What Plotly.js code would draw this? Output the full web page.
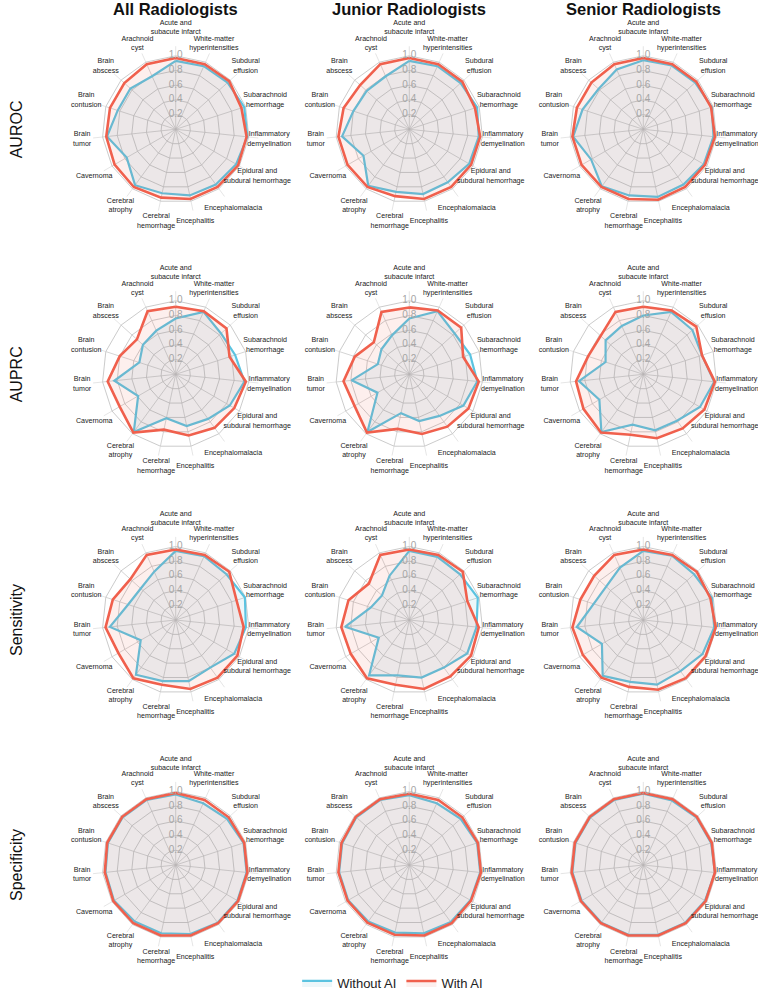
<!DOCTYPE html>
<html><head><meta charset="utf-8">
<script src="https://cdn.plot.ly/plotly-3.0.1.min.js"></script>
<style>html,body{margin:0;padding:0;background:#fff}</style>
</head><body><div id="chart" style="width:758px;height:999px"></div>
<script>
const categories = ["Acute and<br>subacute infarct", "White-matter<br>hyperintensities", "Subdural<br>effusion", "Subarachnoid<br>hemorrhage", "Inflammatory<br>demyelination", "Epidural and<br>subdural hemorrhage", "Encephalomalacia", "Encephalitis", "Cerebral<br>hemorrhage", "Cerebral<br>atrophy", "Cavernoma", "Brain<br>tumor", "Brain<br>contusion", "Brain<br>abscess", "Arachnoid<br>cyst"];
const groups = ["All Radiologists", "Junior Radiologists", "Senior Radiologists"];
const metrics = ["AUROC", "AUPRC", "Sensitivity", "Specificity"];
const seriesNames = ["Without AI", "With AI"];
const radialTicks = [0.2, 0.4, 0.6, 0.8, 1.0];
const radialTickText = ["0.2", "0.4", "0.6", "0.8", "1.0"];

// AUROC
const aurocAllWithout    = [0.93,0.94,0.95,0.98,0.98,0.95,0.93,0.92,0.89,0.94,0.77,0.94,0.83,0.83,0.79];
const aurocAllWith       = [0.97,0.97,0.98,0.94,0.97,0.98,0.97,0.97,0.95,0.97,0.96,0.95,0.94,0.94,0.97];
const aurocJuniorWithout = [0.93,0.94,0.94,0.97,0.95,0.94,0.89,0.90,0.87,0.95,0.72,0.92,0.80,0.78,0.79];
const aurocJuniorWith    = [0.97,0.97,0.97,0.94,0.97,0.97,0.97,0.97,0.93,0.97,0.97,0.97,0.94,0.90,0.97];
const aurocSeniorWithout = [0.94,0.95,0.95,0.98,0.96,0.95,0.93,0.94,0.92,0.96,0.82,0.96,0.87,0.82,0.89];
const aurocSeniorWith    = [0.97,0.97,0.97,0.97,0.98,0.97,0.97,0.98,0.97,0.97,0.97,0.97,0.95,0.95,0.97];
// AUPRC
const auprcAllWithout    = [0.76,0.93,0.83,0.85,0.94,0.85,0.75,0.72,0.61,0.97,0.59,0.84,0.52,0.60,0.65];
const auprcAllWith       = [0.92,0.94,0.93,0.77,0.96,0.92,0.90,0.85,0.77,0.98,0.88,0.93,0.80,0.71,0.94];
const auprcJuniorWithout = [0.76,0.94,0.83,0.87,0.93,0.85,0.70,0.65,0.54,0.97,0.50,0.79,0.45,0.51,0.58];
const auprcJuniorWith    = [0.91,0.95,0.95,0.77,0.95,0.93,0.88,0.83,0.76,0.98,0.86,0.90,0.78,0.65,0.93];
const auprcSeniorWithout = [0.80,0.93,0.90,0.84,0.97,0.89,0.78,0.78,0.70,0.97,0.69,0.88,0.54,0.69,0.72];
const auprcSeniorWith    = [0.92,0.95,0.97,0.84,0.98,0.96,0.91,0.89,0.84,0.98,0.94,0.92,0.79,0.78,0.93];
// Sensitivity
const sensAllWithout     = [0.94,0.95,0.93,0.99,0.96,0.92,0.80,0.85,0.85,0.92,0.55,0.90,0.68,0.64,0.72];
const sensAllWith        = [0.96,0.97,0.98,0.87,0.93,0.97,0.97,0.96,0.90,0.98,0.90,0.96,0.90,0.83,0.97];
const sensJuniorWithout  = [0.94,0.94,0.93,0.98,0.92,0.91,0.80,0.80,0.77,0.93,0.48,0.88,0.55,0.50,0.66];
const sensJuniorWith     = [0.96,0.97,0.98,0.83,0.95,0.97,0.95,0.96,0.90,0.98,0.92,0.93,0.87,0.74,0.97];
const sensSeniorWithout  = [0.94,0.96,0.93,0.98,0.97,0.93,0.86,0.90,0.86,0.94,0.65,0.91,0.71,0.68,0.78];
const sensSeniorWith     = [0.96,0.97,0.98,0.96,0.99,0.98,0.98,0.97,0.93,0.97,0.95,0.97,0.90,0.90,0.97];
// Specificity
const specAllWithout     = [0.96,0.92,0.94,0.97,0.97,0.97,0.97,0.96,0.95,0.95,0.97,0.96,0.97,0.97,0.97];
const specAllWith        = [0.98,0.97,0.97,0.98,0.98,0.98,0.98,0.98,0.98,0.98,0.98,0.97,0.98,0.98,0.98];
const specJuniorWithout  = [0.95,0.92,0.94,0.97,0.97,0.96,0.96,0.95,0.94,0.95,0.96,0.96,0.96,0.97,0.97];
const specJuniorWith     = [0.97,0.97,0.97,0.98,0.98,0.97,0.98,0.98,0.97,0.97,0.97,0.97,0.97,0.98,0.98];
const specSeniorWithout  = [0.97,0.96,0.97,0.97,0.98,0.97,0.97,0.97,0.97,0.97,0.97,0.97,0.97,0.97,0.97];
const specSeniorWith     = [0.98,0.98,0.98,0.98,0.98,0.98,0.98,0.98,0.98,0.98,0.98,0.98,0.98,0.98,0.98];

const panels = [
  [[aurocAllWithout, aurocAllWith], [aurocJuniorWithout, aurocJuniorWith], [aurocSeniorWithout, aurocSeniorWith]],
  [[auprcAllWithout, auprcAllWith], [auprcJuniorWithout, auprcJuniorWith], [auprcSeniorWithout, auprcSeniorWith]],
  [[sensAllWithout, sensAllWith], [sensJuniorWithout, sensJuniorWith], [sensSeniorWithout, sensSeniorWith]],
  [[specAllWithout, specAllWith], [specJuniorWithout, specJuniorWith], [specSeniorWithout, specSeniorWith]]
];

const W = 758, H = 999;
const colCenters = [175.7, 409.3, 643.3];
const rowCenters = [129.3, 374.3, 620, 865];
const R1 = 73.5;          // pixel radius of value 1.0
const RMAX = 1.45;        // radial range max (room for labels)
const RD = R1 * RMAX;     // domain half-size
const lineColors = ["#5bc3e0", "#f0604d"];
const fillColors = ["rgba(70,175,205,0.10)", "rgba(240,96,77,0.10)"];
const FONT = "Liberation Sans, Arial, sans-serif";

// spoke geometry (built from categories through the polar scales)
const spokeR = [], spokeT = [], extR = [], extT = [];
categories.forEach(cat => {
  spokeR.push(0, 1, null); spokeT.push(cat, cat, cat);
  extR.push(1, 1.13, null); extT.push(cat, cat, cat);
});

const data = [];
const layout = {
  width: W, height: H,
  margin: {l:0, r:0, t:0, b:0},
  paper_bgcolor: "#fff",
  font: {family: FONT, color: "#222"},
  showlegend: true,
  legend: {orientation: "h", x: 0.518, xanchor: "center", y: 0.016, yanchor: "middle",
           font: {size: 13, family: FONT, color: "#222"}, itemwidth: 30, tracegroupgap: 0},
  annotations: []
};

let k = 0;
for (let r = 0; r < 4; r++) {
  for (let c = 0; c < 3; c++) {
    k++;
    const pid = k === 1 ? "polar" : "polar" + k;
    const cx = colCenters[c], cy = rowCenters[r];
    layout[pid] = {
      domain: {x: [(cx - RD) / W, (cx + RD) / W], y: [(H - cy - RD) / H, (H - cy + RD) / H]},
      bgcolor: "rgba(0,0,0,0)",
      gridshape: "linear",
      angularaxis: {type: "category", categoryarray: categories, rotation: 90, direction: "clockwise",
        showticklabels: false, ticks: "", showgrid: false, showline: false},
      radialaxis: {range: [0, RMAX], tickvals: radialTicks, showticklabels: false, ticks: "",
        showline: false, showgrid: true, gridcolor: "#b5b5b5", gridwidth: 0.7, angle: 90}
    };
    data.push({
      type: "scatterpolar", subplot: pid, mode: "lines", r: spokeR, theta: spokeT,
      line: {color: "#c2c2c2", width: 0.7}, showlegend: false, hoverinfo: "skip", connectgaps: false
    });
    data.push({
      type: "scatterpolar", subplot: pid, mode: "lines", r: extR, theta: extT,
      line: {color: "#dadada", width: 0.7}, showlegend: false, hoverinfo: "skip", connectgaps: false
    });
    const pair = panels[r][c];
    for (let s = 0; s < 2; s++) {
      data.push({
        type: "scatterpolar", subplot: pid, mode: "lines", fill: "toself",
        r: pair[s].concat([pair[s][0]]), theta: categories.concat([categories[0]]),
        name: seriesNames[s], legendgroup: seriesNames[s], showlegend: k === 1,
        line: {color: lineColors[s], width: s === 1 ? 2.6 : 2.2},
        fillcolor: fillColors[s], hoverinfo: "skip"
      });
    }
    data.push({
      type: "scatterpolar", subplot: pid, mode: "text", cliponaxis: false,
      r: radialTicks, theta: radialTicks.map(() => categories[0]), text: radialTickText,
      textposition: "middle center", textfont: {size: 10, color: "#a5a5a5", family: FONT},
      showlegend: false, hoverinfo: "skip"
    });
    data.push({
      type: "scatterpolar", subplot: pid, mode: "text", cliponaxis: false,
      r: categories.map((cat, i) => i === 0 ? 1.38 : (i === 6 ? 1.33 : 1.28)), theta: categories, text: categories,
      textposition: "middle center", textfont: {size: 7.1, color: "#1a1a1a", family: FONT},
      showlegend: false, hoverinfo: "skip"
    });
  }
}

groups.forEach((g, c) => {
  layout.annotations.push({text: "<b>" + g + "</b>", x: colCenters[c] / W, y: 1 - 9 / H,
    xref: "paper", yref: "paper", xanchor: "center", yanchor: "middle", showarrow: false,
    font: {size: 16.5, family: FONT, color: "#111"}});
});
metrics.forEach((m, r) => {
  layout.annotations.push({text: m, x: 16 / W, y: 1 - rowCenters[r] / H, textangle: -90,
    xref: "paper", yref: "paper", xanchor: "center", yanchor: "middle", showarrow: false,
    font: {size: 16, family: FONT, color: "#111"}});
});

Plotly.newPlot("chart", data, layout, {staticPlot: true});
</script>
</body></html>
